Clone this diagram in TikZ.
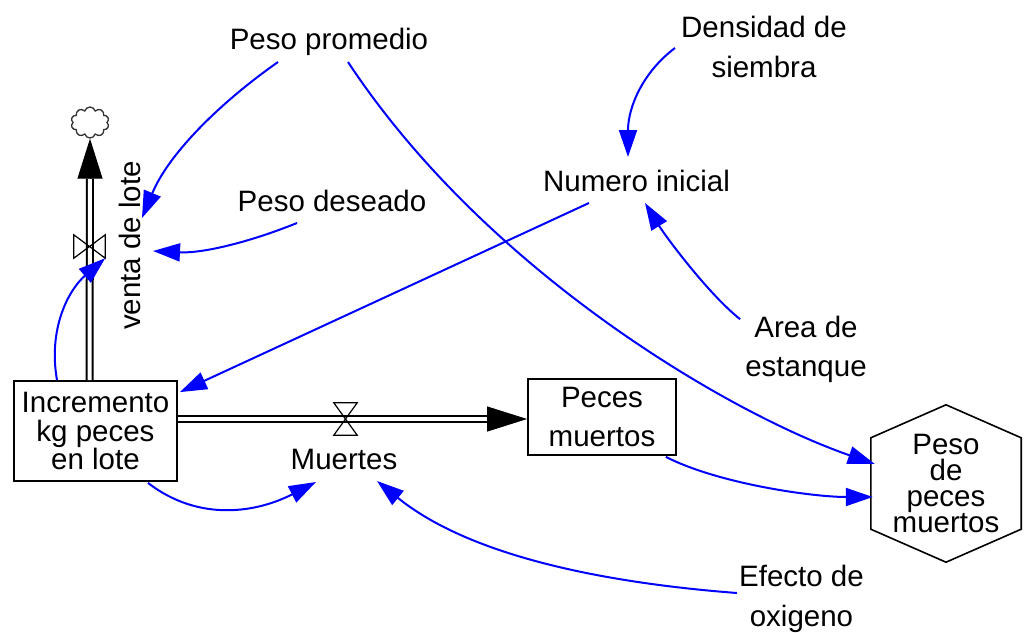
\documentclass[tikz,border=0pt]{standalone}
\usepackage{fontspec}
\setmainfont{Liberation Sans}
\usepackage{tikz}
\usetikzlibrary{arrows.meta, shapes.symbols}

\begin{document}
\begin{tikzpicture}[x=1pt, y=1pt,
    every node/.style={inner sep=0pt, align=center, font=\fontsize{29.5}{39.5}\selectfont},
    stock/.style={draw, line width=1.8pt},
    lnk/.style={draw=blue, line width=2pt, -{Triangle[length=27pt,width=18pt]}},
    pipe/.style={double, double distance=4pt, line width=2pt},
    flowtip/.style={line width=1pt, -{Triangle[length=40pt,width=25pt]}},
    valve/.style={line width=1.2pt, line join=miter}]
    \fill[white] (0,0) rectangle (1026,-632);

    \node[stock, minimum width=163pt, minimum height=100pt, font=\fontsize{29.5}{28.5}\selectfont] (inc) at (95.5,-431) {Incremento\\kg peces\\en lote};
    \node[stock, minimum width=148pt, minimum height=76pt] (pm) at (602,-417) {Peces\\muertos};
    \node[minimum width=150pt, minimum height=157pt, font=\fontsize{29.5}{26}\selectfont] (hx) at (946,-483.5) {Peso\\de\\peces\\muertos};
    \draw[line width=1.6pt] (hx.north) -- ([yshift=-33pt]hx.north east) -- ([yshift=33pt]hx.south east) -- (hx.south) -- ([yshift=33pt]hx.south west) -- ([yshift=-33pt]hx.north west) -- cycle;

    \node[anchor=base] (pp) at (329,-49) {Peso promedio};
    \node (ds) at (764,-46.75) {Densidad de\\siembra};
    \node[anchor=base] (ni) at (636.5,-191.5) {Numero inicial};
    \node[anchor=base] (pd) at (332,-211) {Peso deseado};
    \node (ae) at (806,-349.4) {Area de\\estanque};
    \node (eo) at (801.5,-599) {Efecto de\\oxigeno};
    \node[anchor=base] (mu) at (344,-469) {Muertes};
    \node[rotate=90] (vl) at (130,-245.5) {venta de lote};

    \node[cloud, cloud puffs=10, cloud ignores aspect, draw=black!80, line width=1.3pt, minimum width=38pt, minimum height=31pt] (cl) at (90,-122.5) {};
    \node[minimum width=31pt, minimum height=23pt] (v1) at (89.5,-246.5) {};
    \node[minimum width=23pt, minimum height=32pt] (v2) at (345.5,-419) {};

    % flujos
    \draw[pipe] ([xshift=-6pt]inc.north) -- ([yshift=-40pt]cl.south);
    \draw[flowtip] ([yshift=-40pt]cl.south) -- (cl.south);
    \draw[pipe] ([yshift=12pt]inc.east) -- ([shift={(-40,-2)}]pm.west);
    \draw[flowtip] ([shift={(-40,-2)}]pm.west) -- ([yshift=-2pt]pm.west);
    \draw[valve] (v1.north west) -- (v1.south west) -- (v1.north east) -- (v1.south east) -- cycle;
    \draw[valve] (v2.north west) -- (v2.north east) -- (v2.south west) -- (v2.south east) -- cycle;

    % conectores
    \draw[lnk] ([shift={(-51,-13)}]pp.base) .. controls +(-57,-40) and +(27,65) .. ([shift={(12,27.5)}]vl.center);
    \draw[lnk] ([shift={(-35,-12)}]pd.base) .. controls +(-47,-19) and +(50,-2.5) .. ([shift={(23,-5.5)}]vl.center);
    \draw[lnk] ([xshift=-38.5pt]inc.north) .. controls +(-9,51) and +(-37,-32) .. (v1.south east);
    \draw[lnk] ([shift={(-47.5,-11.5)}]ni.base) -- ([shift={(2,-12)}]inc.north east);
    \draw[lnk] ([shift={(-6,-1.25)}]ds.west) .. controls +(-32,-24) and +(0,50) .. ([shift={(-8.5,34.5)}]ni.base);
    \draw[lnk] ([shift={(-5,-3.5)}]ae.north west) .. controls +(-31.5,25) and +(21,-34) .. ([shift={(8.5,-11.5)}]ni.base);
    \draw[lnk] ([shift={(19,-13)}]pp.base) .. controls +(140,-212) and +(-142,49) .. ([shift={(4,19.5)}]hx.west);
    \draw[lnk] ([shift={(-11,-1)}]pm.south east) .. controls +(53,-27) and +(-60,0) .. ([shift={(2,-13.5)}]hx.west);
    \draw[lnk] ([shift={(52.5,-1)}]inc.south) .. controls +(52,-40) and +(-58,-30) .. ([shift={(-28,-13)}]mu.base);
    \draw[lnk] ([shift={(-2,6)}]eo.west) .. controls +(-130,10) and +(94,-76) .. ([shift={(33,-12)}]mu.base);
\end{tikzpicture}
\end{document}
